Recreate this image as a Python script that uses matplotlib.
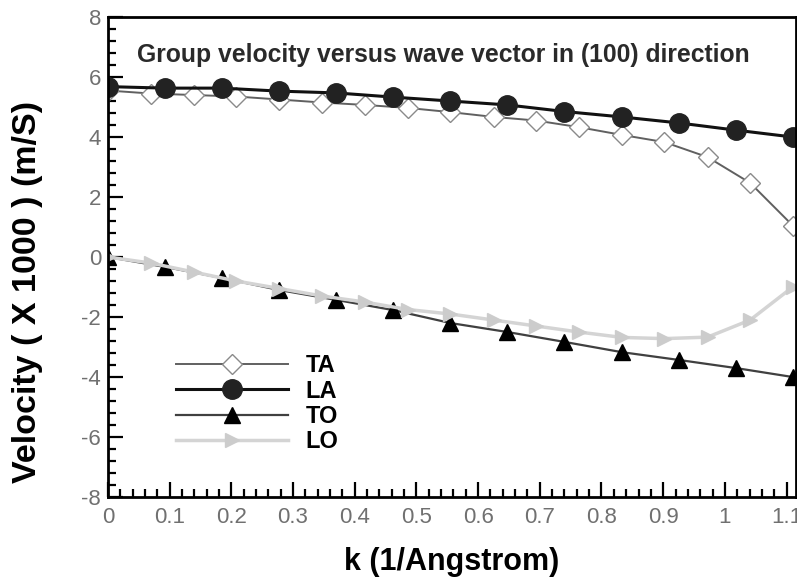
import matplotlib
matplotlib.use('Agg')
import matplotlib.pyplot as plt
from matplotlib.ticker import MultipleLocator

plt.rcParams['font.family'] = ['Liberation Sans', 'DejaVu Sans']
plt.rcParams['axes.unicode_minus'] = False

# TA and LO sampled on a finer k grid than LA and TO
k_fine = [0, 0.069, 0.139, 0.208, 0.278, 0.347, 0.416, 0.486, 0.555,
          0.625, 0.694, 0.763, 0.833, 0.902, 0.972, 1.041, 1.11]
k_coarse = [0, 0.0925, 0.185, 0.2775, 0.37, 0.4625, 0.555, 0.6475,
            0.74, 0.8325, 0.925, 1.0175, 1.11]

ta = [5.55, 5.45, 5.4, 5.35, 5.25, 5.15, 5.07, 4.97, 4.83,
      4.67, 4.55, 4.33, 4.07, 3.83, 3.33, 2.47, 1.05]
la = [5.68, 5.63, 5.63, 5.53, 5.47, 5.33, 5.2, 5.07, 4.85,
      4.67, 4.47, 4.23, 4.0]
to = [0.0, -0.33, -0.7, -1.1, -1.43, -1.77, -2.2, -2.5, -2.83,
      -3.17, -3.43, -3.7, -4.0]
lo = [0.0, -0.2, -0.5, -0.8, -1.05, -1.3, -1.5, -1.75, -1.9,
      -2.1, -2.3, -2.5, -2.68, -2.72, -2.67, -2.1, -1.0]

fig = plt.figure(figsize=(7.97, 5.79), dpi=100)
ax = fig.add_axes([0.1355, 0.1416, 0.863, 0.829])

ax.plot(k_fine, ta, color='#606060', lw=1.4, marker='D', ms=10,
        mfc='white', mec='#8a8a8a', mew=1.0, label='TA')
ax.plot(k_coarse, la, color='#111111', lw=2.2, marker='o', ms=14,
        mfc='#222222', mec='#222222', label='LA')
ax.plot(k_coarse, to, color='#404040', lw=1.6, marker='^', ms=11,
        mfc='black', mec='black', label='TO')
ax.plot(k_fine, lo, color='#d4d4d4', lw=2.5, marker='>', ms=10,
        mfc='#cccccc', mec='#cccccc', label='LO')

ax.set_xlim(0, 1.115)
ax.set_ylim(-8, 8)
ax.xaxis.set_major_locator(MultipleLocator(0.1))
ax.xaxis.set_minor_locator(MultipleLocator(0.02))
ax.yaxis.set_major_locator(MultipleLocator(2))
ax.yaxis.set_minor_locator(MultipleLocator(0.4))
ax.xaxis.set_major_formatter(plt.FuncFormatter(lambda v, p: ('%g' % round(v, 2))))

ax.tick_params(which='both', direction='in', top=False, right=False,
               colors='black', labelcolor='#707070', labelsize=16, width=1.6)
ax.tick_params(which='major', length=11)
ax.tick_params(which='minor', length=6)
ax.tick_params(axis='x', pad=7)
ax.tick_params(axis='y', pad=5)
for s in ax.spines.values():
    s.set_linewidth(2.0)

ax.text(0.042, 0.921, 'Group velocity versus wave vector in (100) direction',
        transform=ax.transAxes, fontsize=17.8, fontweight='bold',
        color='#2a2a2a', va='center')

ax.set_xlabel('k (1/Angstrom)', fontsize=22, fontweight='bold', labelpad=14)
ax.set_ylabel('Velocity ( X 1000 ) (m/S)', fontsize=24.5, fontweight='bold')
ax.yaxis.set_label_coords(-0.095, 0.427)

ax.legend(loc='upper left', bbox_to_anchor=(0.081, 0.322), frameon=False,
          borderpad=0, handlelength=4.75, handletextpad=0.75,
          labelspacing=0.1, prop={'size': 17, 'weight': 'bold'})

fig.savefig('out.png', dpi=100)
